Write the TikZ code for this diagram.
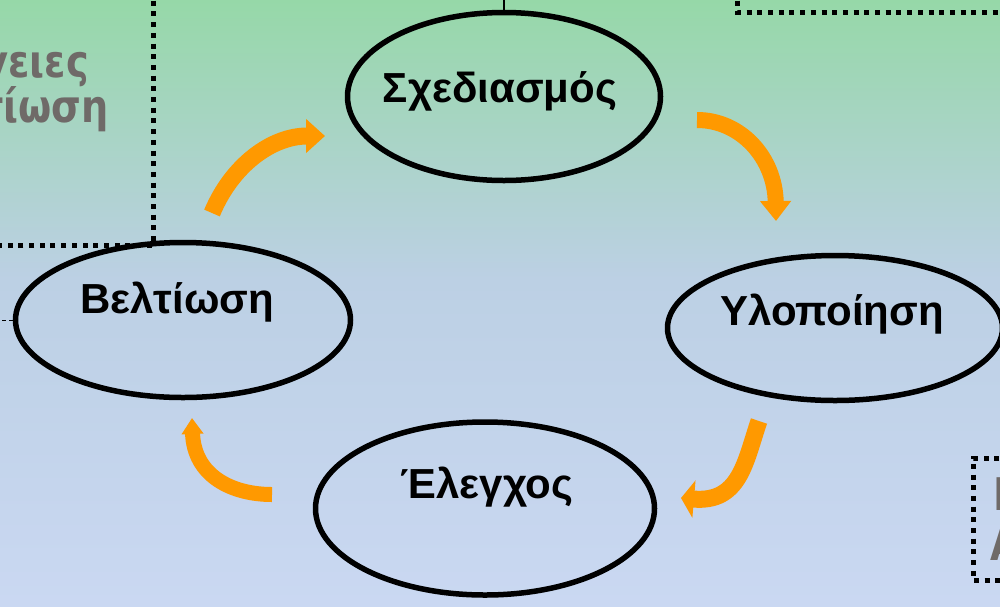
\documentclass[tikz,border=0pt]{standalone}
\usepackage{fontspec}
\setmainfont{Liberation Sans}
\newfontfamily\grayfont[FakeStretch=0.85]{DejaVu Sans}
\usetikzlibrary{arrows.meta,shapes.geometric}
\definecolor{bgtop}{RGB}{150,216,168}
\definecolor{bgmid}{RGB}{188,208,228}
\definecolor{bgbot}{RGB}{202,216,242}
\definecolor{arroworange}{RGB}{255,153,0}
\definecolor{textgray}{RGB}{111,106,104}
\pgfdeclareverticalshading{slidebg}{100bp}{%
  color(0bp)=(bgbot); color(25bp)=(bgbot); color(52bp)=(bgmid);
  color(75bp)=(bgtop); color(100bp)=(bgtop)}
\begin{document}
\begin{tikzpicture}[x=1pt,y=-1pt,
  cyc/.style={ellipse, draw=black, line width=5.5pt, inner sep=0pt},
  lbl/.style={font=\bfseries\fontsize{42}{48}\selectfont, inner sep=0pt, anchor=base},
  side/.style={font=\grayfont\bfseries\fontsize{45}{52}\selectfont, text=textgray, inner sep=0pt},
  dotline/.style={line width=5pt, dash pattern=on 5pt off 5.7pt},
  flow/.style={draw=arroworange, line width=#1},
  thinline/.style={line width=1.2pt, draw=black},
  thindash/.style={line width=1pt, draw=black, dash pattern=on 4pt off 3pt}
]
\useasboundingbox (0,0) rectangle (1000,606);
\clip (0,0) rectangle (1000,606);
\shade[shading=slidebg] (0,0) rectangle (1000,606);

% dotted frames (partly outside)
\draw[dotline] (153,-10) -- (153,245.5) -- (-10,245.5);
\draw[dotline] (737,-10) -- (737,12.5) -- (1010,12.5);
\draw[dotline] (1010,458) -- (973,458) -- (973,580.5) -- (1010,580.5);

% gray side texts
\node[side, anchor=base east] (g1) at (89,77) {γειες};
\node[side, anchor=base east] (g2) at (109,122) {τίωση};
\node[side, anchor=base west] (g3) at (993,510) {Π};
\node[side, anchor=base west] (g4) at (990,560) {Α};

% cycle ellipses
\node[cyc, minimum width=313pt, minimum height=168pt] (s) at (504,96.5) {};
\node[cyc, minimum width=335pt, minimum height=155pt] (b) at (183,320) {};
\node[cyc, minimum width=335pt, minimum height=145pt] (y) at (835,328) {};
\node[cyc, minimum width=339pt, minimum height=173pt] (e) at (485,508.5) {};

\node[lbl] (st) at (500,102) {Σχεδιασμός};
\node[lbl] (bt) at (177,313) {Βελτίωση};
\node[lbl] (yt) at (832,325) {Υλοποίηση};
\node[lbl] (et) at (487,498) {Έλεγχος};

% small stubs of outside connectors
\draw[thinline] (s.north) -- ++(0,-14);
\draw[thindash] (b.west) -- ++(-20,0);

% orange cycle arrows
\coordinate (a1s) at (212,213);
\coordinate (a1e) at (325,136);
\coordinate (a2s) at (697,120);
\coordinate (a2e) at (776,221);
\coordinate (a3s) at (759,421);
\coordinate (a3e) at (681,498);
\coordinate (a4s) at (272,494.5);
\coordinate (a4e) at (192,418);

\draw[flow=17pt, -{Triangle[width=33pt,length=19pt]}]
  (a1s) .. controls (232,165) and (272,136) .. (a1e);
\draw[flow=16pt, -{Triangle[width=30pt,length=20pt]}]
  (a2s) .. controls (741,120) and (775,158) .. (a2e);
\draw[flow=17pt, -{Triangle[width=37pt,length=13pt]}]
  (a3s) .. controls (745,462) and (740,503) .. (a3e);
\draw[flow=15pt, -{Triangle[width=21pt,length=16pt]}]
  (a4s) .. controls (232,494.5) and (194,476) .. (a4e);
\end{tikzpicture}
\end{document}
